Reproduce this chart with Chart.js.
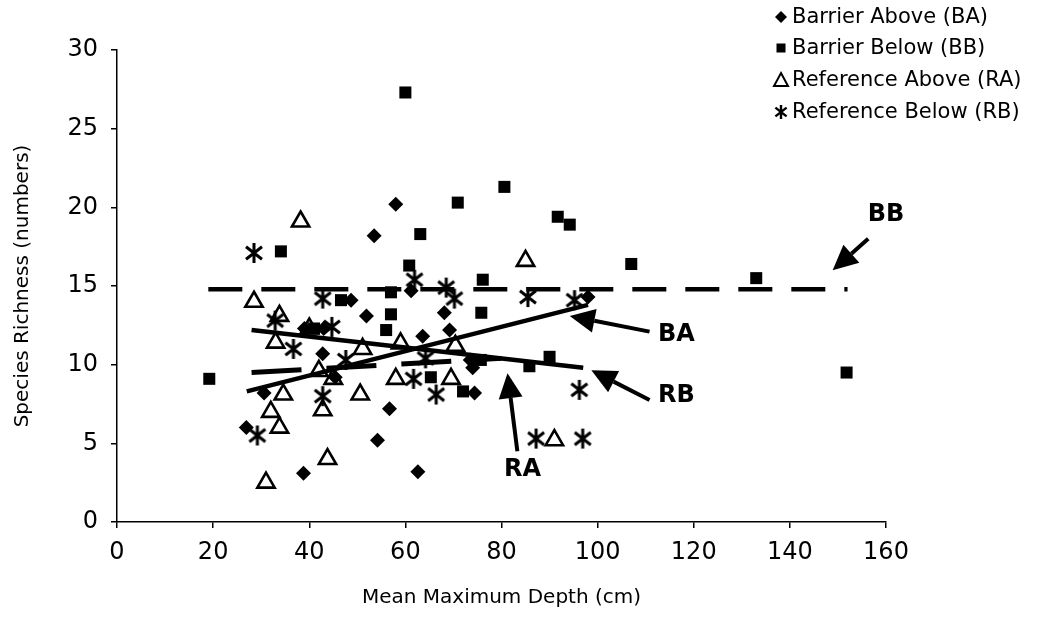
<!DOCTYPE html>
<html>
<head>
<meta charset="utf-8">
<script src="https://cdn.jsdelivr.net/npm/chart.js@4/dist/chart.umd.min.js"></script>
<style>
  html, body { margin: 0; padding: 0; background: #fff; }
  #wrap { width: 1041px; height: 644px; }
</style>
</head>
<body>
<div id="wrap"><canvas id="chart" width="1041" height="644"></canvas></div>
<script>
// Barrier Above (BA) - losangos
const baX = [26.9, 30.6, 38.8, 42.8, 45.4, 39, 43, 48.7, 51.9, 53.5, 58, 54.2, 56.7, 61.2, 62.6, 63.6, 68.1, 69.2, 74, 74.4, 73.5, 98];
const baY = [6.0, 8.2, 3.1, 10.7, 9.2, 12.3, 12.3, 14.1, 13.1, 18.2, 20.2, 5.2, 7.2, 14.7, 3.2, 11.8, 13.3, 12.2, 9.8, 8.2, 10.3, 14.3];

// Barrier Below (BB) - quadrados
const bbX = [19.2, 34.1, 46.6, 41, 57, 57, 56, 60, 60.8, 63.1, 70.9, 80.6, 91.7, 94.2, 76.1, 75.8, 65.3, 72, 75.7, 85.8, 90, 107, 133, 151.8];
const bbY = [9.1, 17.2, 14.1, 12.3, 14.6, 13.2, 12.2, 27.3, 16.3, 18.3, 20.3, 21.3, 19.4, 18.9, 15.4, 13.3, 9.2, 8.3, 10.3, 9.9, 10.5, 16.4, 15.5, 9.5];

// Reference Above (RA) - triângulos vazados
const raX = [28.5, 33.8, 33, 38.2, 34.6, 32, 33.8, 31, 42, 45, 42.8, 43.8, 50.6, 51.1, 59, 58, 69.5, 70.4, 85, 91, 40];
const raY = [14.0, 13.1, 11.4, 19.1, 8.1, 7.0, 6.0, 2.5, 9.6, 9.1, 7.1, 4.0, 8.1, 11.0, 11.35, 9.1, 9.1, 11.2, 16.6, 5.2, 12.3];

// Reference Below (RB) - asteriscos
const rbX = [28.5, 29.2, 32.9, 36.7, 42.8, 42.8, 44.7, 47.6, 61.9, 68.5, 70.2, 64.2, 61.7, 66.4, 85.5, 95.2, 87.2, 96.2, 96.9];
const rbY = [17.1, 5.5, 12.8, 11.0, 14.2, 8.0, 12.4, 10.3, 15.4, 14.9, 14.2, 10.4, 9.1, 8.1, 14.3, 14.1, 5.3, 8.4, 5.3];

// Linhas de tendência (extremos)
const baLineX = [27, 98];   const baLineY = [8.3, 13.8];
const bbLineX = [19, 152];  const bbLineY = [14.8, 14.8];
const raLineX = [28, 80];   const raLineY = [9.5, 10.4];
const rbLineX = [28, 97];   const rbLineY = [12.2, 9.8];

const xTicks = [0, 20, 40, 60, 80, 100, 120, 140, 160];
const yTicks = [0, 5, 10, 15, 20, 25, 30];

const legendLabels = ['Barrier Above (BA)', 'Barrier Below (BB)', 'Reference Above (RA)', 'Reference Below (RB)'];

const zip = (xs, ys) => xs.map((v, i) => ({ x: v, y: ys[i] }));

// asterisco desenhado num canvas, usado como pointStyle
function makeAsterisk(size, lw) {
  const c = document.createElement('canvas');
  c.width = size; c.height = size;
  const g = c.getContext('2d');
  const m = size / 2, r = size / 2 - 1;
  g.strokeStyle = '#000';
  g.lineWidth = lw;
  g.beginPath();
  g.moveTo(m, m - r); g.lineTo(m, m + r);
  g.moveTo(m - 0.8 * r, m - 0.62 * r); g.lineTo(m + 0.8 * r, m + 0.62 * r);
  g.moveTo(m - 0.8 * r, m + 0.62 * r); g.lineTo(m + 0.8 * r, m - 0.62 * r);
  g.stroke();
  return c;
}
const starImg = makeAsterisk(22, 3);
const starSmall = makeAsterisk(16, 2.4);

const FONT = '"DejaVu Sans", "Liberation Sans", Arial, sans-serif';

// setas e rótulos BB / BA / RB / RA
const callouts = [
  { text: 'BB', lx: 160, ly: 19.5, from: [156.3, 18.0], to: [148.9, 16.0] },
  { text: 'BA', lx: 116.4, ly: 11.9, from: [110.8, 12.1], to: [94.2, 13.1] },
  { text: 'RB', lx: 116.4, ly: 8.0, from: [110.8, 7.75], to: [98.7, 9.65] },
  { text: 'RA', lx: 84.4, ly: 3.3, from: [83.3, 4.5], to: [81.25, 9.46] }
];

const calloutPlugin = {
  id: 'callouts',
  afterDatasetsDraw(chart) {
    const { ctx, scales: { x, y } } = chart;
    ctx.save();
    ctx.fillStyle = '#000';
    ctx.strokeStyle = '#000';
    callouts.forEach((c) => {
      const x1 = x.getPixelForValue(c.from[0]), y1 = y.getPixelForValue(c.from[1]);
      const x2 = x.getPixelForValue(c.to[0]), y2 = y.getPixelForValue(c.to[1]);
      const ang = Math.atan2(y2 - y1, x2 - x1);
      const headLen = 25, headW = 12;
      const bx = x2 - headLen * Math.cos(ang), by = y2 - headLen * Math.sin(ang);
      ctx.lineWidth = 4;
      ctx.beginPath();
      ctx.moveTo(x1, y1);
      ctx.lineTo(bx, by);
      ctx.stroke();
      ctx.beginPath();
      ctx.moveTo(x2, y2);
      ctx.lineTo(bx + headW * Math.sin(ang), by - headW * Math.cos(ang));
      ctx.lineTo(bx - headW * Math.sin(ang), by + headW * Math.cos(ang));
      ctx.closePath();
      ctx.fill();
      ctx.font = 'bold 24px ' + FONT;
      ctx.textAlign = 'center';
      ctx.textBaseline = 'middle';
      ctx.fillText(c.text, x.getPixelForValue(c.lx), y.getPixelForValue(c.ly));
    });
    ctx.restore();
  }
};

// legenda no canto superior direito
const legendPlugin = {
  id: 'cornerLegend',
  afterDraw(chart) {
    const ctx = chart.ctx;
    const mx = 781, tx = 792, rows = [17, 48, 80, 112];
    ctx.save();
    ctx.fillStyle = '#000';
    ctx.strokeStyle = '#000';
    // losango
    ctx.beginPath();
    ctx.moveTo(mx - 6, rows[0]); ctx.lineTo(mx, rows[0] - 6); ctx.lineTo(mx + 6, rows[0]); ctx.lineTo(mx, rows[0] + 6);
    ctx.closePath(); ctx.fill();
    // quadrado
    ctx.fillRect(mx - 4.5, rows[1] - 4.5, 9, 9);
    // triângulo
    ctx.lineWidth = 2;
    ctx.beginPath();
    ctx.moveTo(mx, rows[2] - 7); ctx.lineTo(mx + 7, rows[2] + 6); ctx.lineTo(mx - 7, rows[2] + 6);
    ctx.closePath(); ctx.stroke();
    // asterisco
    ctx.drawImage(starSmall, mx - 8, rows[3] - 8);
    ctx.font = '21px ' + FONT;
    ctx.textAlign = 'left';
    ctx.textBaseline = 'middle';
    legendLabels.forEach((t, i) => ctx.fillText(t, tx, rows[i] + 1));
    ctx.restore();
  }
};

new Chart(document.getElementById('chart'), {
  type: 'scatter',
  data: {
    datasets: [
      { label: legendLabels[0], data: zip(baX, baY), pointStyle: 'rectRot', pointRadius: 7.5, backgroundColor: '#000', borderColor: '#000', borderWidth: 0 },
      { label: legendLabels[1], data: zip(bbX, bbY), pointStyle: 'rect', pointRadius: 8.5, backgroundColor: '#000', borderColor: '#000', borderWidth: 0 },
      { label: legendLabels[2], data: zip(raX, raY), pointStyle: 'triangle', pointRadius: 10, backgroundColor: 'rgba(0,0,0,0)', borderColor: '#000', borderWidth: 2.6 },
      { label: legendLabels[3], data: zip(rbX, rbY), pointStyle: starImg, pointRadius: 11, borderColor: '#000' },
      { label: 'BA line', data: zip(baLineX, baLineY), showLine: true, pointRadius: 0, borderColor: '#000', borderWidth: 4.5 },
      { label: 'BB line', data: zip(bbLineX, bbLineY), showLine: true, pointRadius: 0, borderColor: '#000', borderWidth: 4.5, borderDash: [34, 19] },
      { label: 'RA line', data: zip(raLineX, raLineY), showLine: true, pointRadius: 0, borderColor: '#000', borderWidth: 5, borderDash: [50, 25] },
      { label: 'RB line', data: zip(rbLineX, rbLineY), showLine: true, pointRadius: 0, borderColor: '#000', borderWidth: 4.5 }
    ]
  },
  options: {
    responsive: false,
    animation: false,
    layout: { padding: { top: 50, right: 155, bottom: 0, left: 0 } },
    plugins: {
      legend: { display: false },
      tooltip: { enabled: false }
    },
    scales: {
      x: {
        type: 'linear',
        min: 0,
        max: 160,
        afterFit: (s) => { s.height = 122; },
        afterBuildTicks: (s) => { s.ticks = xTicks.map((v) => ({ value: v })); },
        ticks: { color: '#000', font: { family: FONT, size: 24 }, padding: 10, maxRotation: 0 },
        grid: { display: true, drawOnChartArea: false, drawTicks: true, tickLength: 6, color: '#000', lineWidth: 1.5 },
        border: { display: true, color: '#000', width: 1.5 },
        title: { display: true, text: 'Mean Maximum Depth (cm)', color: '#000', font: { family: FONT, size: 20 }, padding: { top: 0, bottom: 34 } }
      },
      y: {
        type: 'linear',
        min: 0,
        max: 30,
        afterFit: (s) => { s.width = 117; },
        afterBuildTicks: (s) => { s.ticks = yTicks.map((v) => ({ value: v })); },
        ticks: { color: '#000', font: { family: FONT, size: 24 }, padding: 13 },
        grid: { display: true, drawOnChartArea: false, drawTicks: true, tickLength: 6, color: '#000', lineWidth: 1.5 },
        border: { display: true, color: '#000', width: 1.5 },
        title: { display: true, text: 'Species Richness (numbers)', color: '#000', font: { family: FONT, size: 20 }, padding: { top: 11, bottom: 0 } }
      }
    }
  },
  plugins: [calloutPlugin, legendPlugin]
});
</script>
</body>
</html>
